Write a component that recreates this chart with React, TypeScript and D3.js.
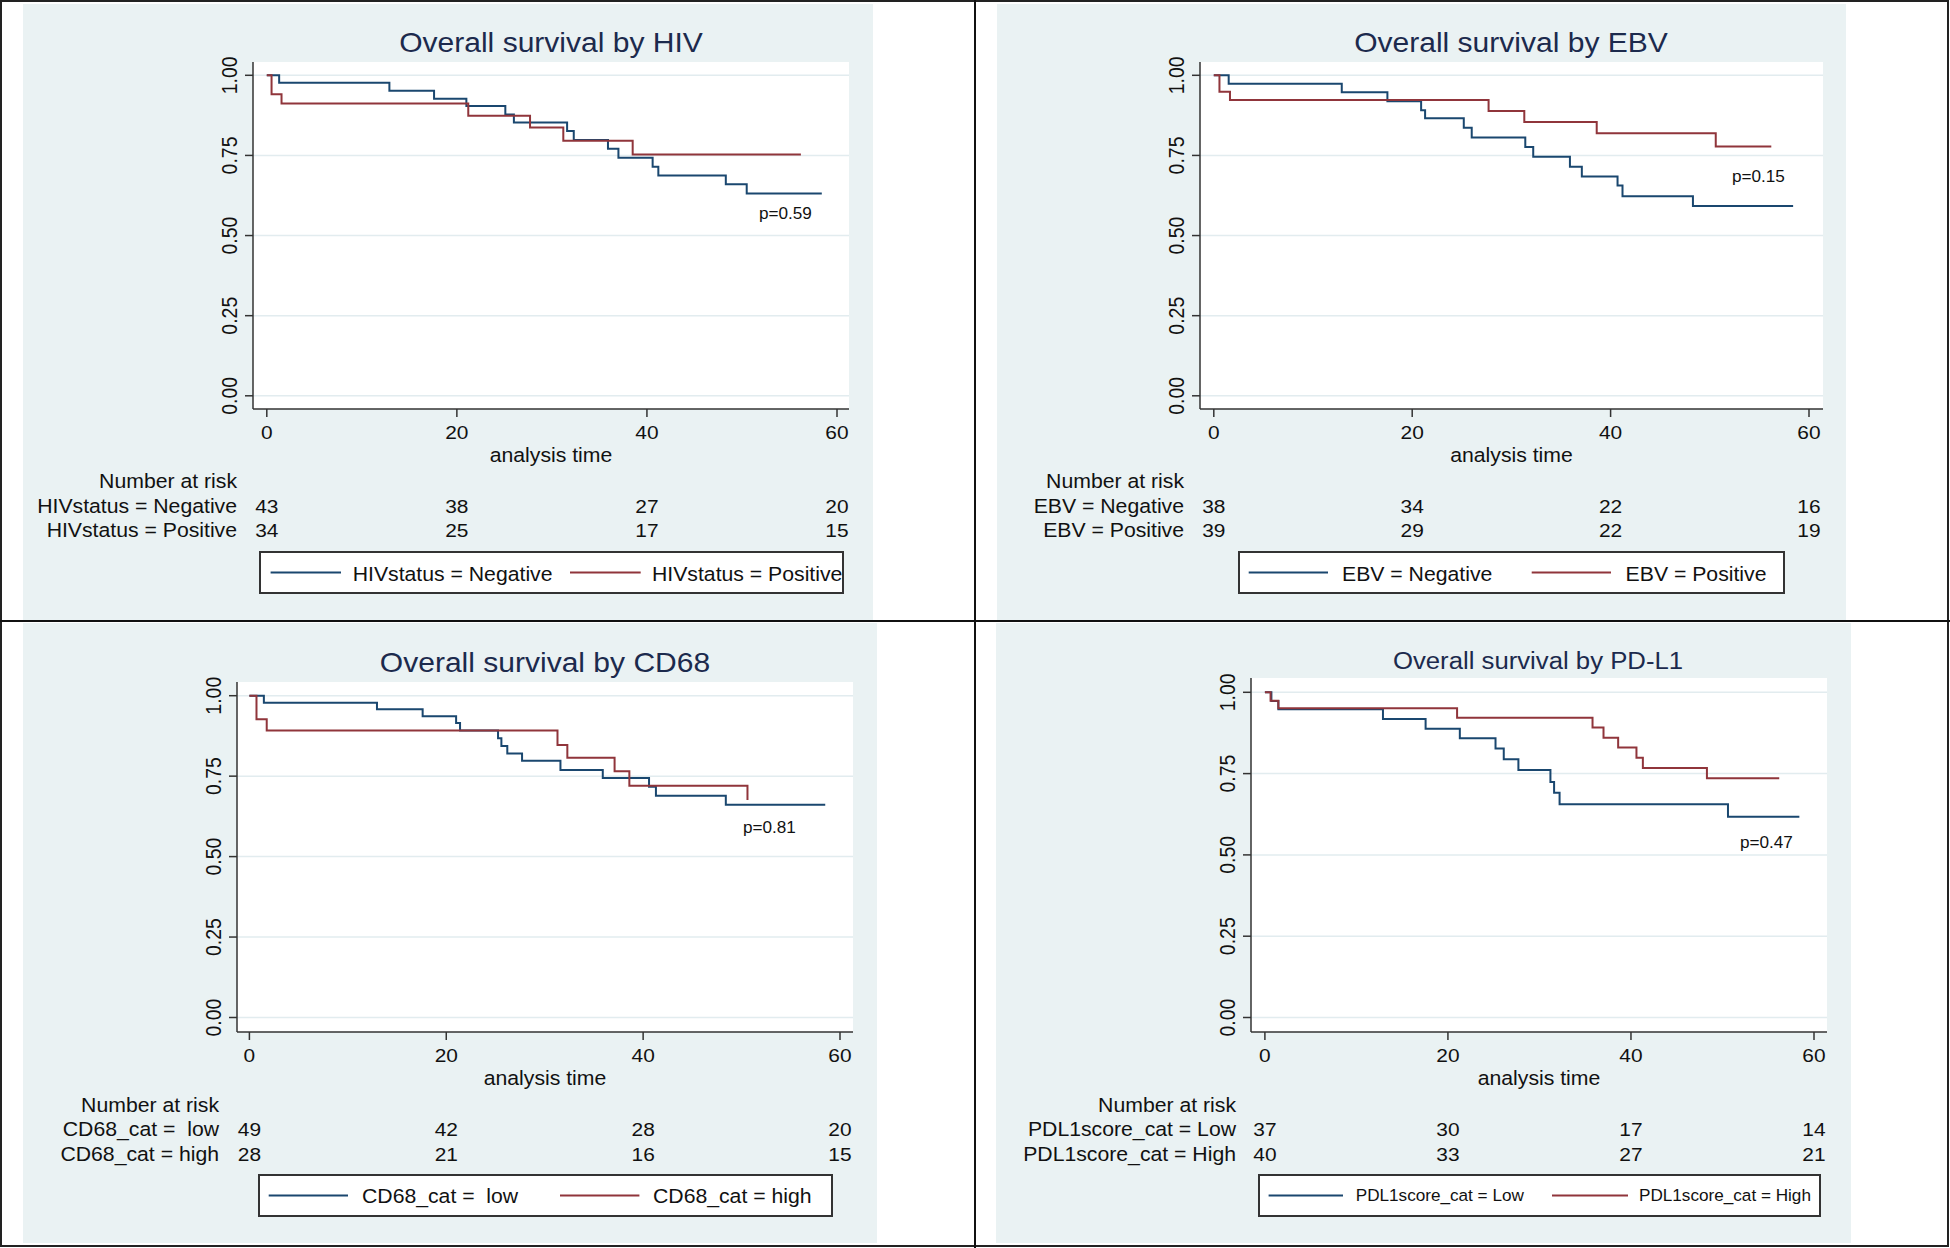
import React from "react";
import * as d3 from "d3";

const W = 1950;
const H = 1248;
const NAVY = "#1a476f";
const MAROON = "#90353b";
const BG = "#eaf2f3";
const GRID = "#e2ecef";
const SX = 1.1; // source glyphs are a bit wider than tall

const timeTicks = [0, 20, 40, 60];
const survTicks = [0, 0.25, 0.5, 0.75, 1];
const survTickLabels = ["0.00", "0.25", "0.50", "0.75", "1.00"];

// [time of step, survival after step]; last point = end of follow-up
const hivNeg = [[0, 1], [1.3, 0.977], [12.9, 0.952], [17.6, 0.927], [21.0, 0.904], [25.1, 0.878], [26.0, 0.853], [31.6, 0.826], [32.3, 0.798], [35.9, 0.771], [37.0, 0.743], [40.6, 0.715], [41.2, 0.687], [48.3, 0.66], [50.5, 0.631], [58.4, 0.631]];
const hivPos = [[0, 1], [0.5, 0.941], [1.55, 0.912], [21.2, 0.874], [27.7, 0.837], [31.2, 0.796], [38.5, 0.753], [56.2, 0.753]];
const hivRiskNeg = [43, 38, 27, 20];
const hivRiskPos = [34, 25, 17, 15];

const ebvNeg = [[0, 1], [1.5, 0.974], [12.9, 0.947], [17.5, 0.919], [20.9, 0.891], [21.3, 0.866], [25.2, 0.836], [26.0, 0.806], [31.4, 0.776], [32.2, 0.746], [35.9, 0.715], [37.1, 0.684], [40.7, 0.656], [41.2, 0.623], [48.3, 0.592], [58.4, 0.592]];
const ebvPos = [[0, 1], [0.57, 0.949], [1.63, 0.923], [27.7, 0.889], [31.3, 0.854], [38.6, 0.819], [50.6, 0.778], [56.2, 0.778]];
const ebvRiskNeg = [38, 34, 22, 16];
const ebvRiskPos = [39, 29, 22, 19];

const cdLow = [[0, 1], [1.47, 0.978], [12.96, 0.958], [17.6, 0.936], [21.0, 0.915], [21.4, 0.892], [25.26, 0.868], [25.6, 0.844], [26.2, 0.82], [27.7, 0.798], [31.6, 0.769], [35.9, 0.744], [40.6, 0.717], [41.3, 0.689], [48.4, 0.661], [58.5, 0.661]];
const cdHigh = [[0, 1], [0.72, 0.927], [1.76, 0.892], [31.3, 0.847], [32.3, 0.807], [37.1, 0.765], [38.6, 0.72], [50.6, 0.676]];
const cdRiskLow = [49, 42, 28, 20];
const cdRiskHigh = [28, 21, 16, 15];

const pdLow = [[0, 1], [0.71, 0.973], [1.47, 0.948], [12.9, 0.918], [17.56, 0.888], [21.3, 0.859], [25.2, 0.827], [26.1, 0.794], [27.7, 0.761], [31.2, 0.724], [31.6, 0.691], [32.2, 0.656], [50.6, 0.617], [58.4, 0.617]];
const pdHigh = [[0, 1], [0.62, 0.974], [1.47, 0.951], [21.0, 0.922], [35.8, 0.892], [37.0, 0.86], [38.6, 0.83], [40.6, 0.799], [41.3, 0.767], [48.3, 0.736], [56.2, 0.736]];
const pdRiskLow = [37, 30, 17, 14];
const pdRiskHigh = [40, 33, 27, 21];

const panels = [
  {
    title: "Overall survival by HIV", titleSize: 27.3, titleX: 551, titleY: 52,
    names: ["HIVstatus = Negative", "HIVstatus = Positive"],
    curves: [hivNeg, hivPos], risk: [hivRiskNeg, hivRiskPos], p: "p=0.59",
    bg: [23, 4, 873, 620], plot: [253, 62, 849, 409], xr: [266.8, 837], yr: [395.8, 75.3],
    tickY: 439, axisTitleY: 462, riskX: 237, riskY: [488, 513, 537],
    legend: [260, 552, 843, 593], leg: [270.6, 341, 352.7, 570, 640.7, 652], legY: 581, legSize: 19.3,
    pX: 759, pY: 219,
  },
  {
    title: "Overall survival by EBV", titleSize: 27.3, titleX: 1511, titleY: 52,
    names: ["EBV = Negative", "EBV = Positive"],
    curves: [ebvNeg, ebvPos], risk: [ebvRiskNeg, ebvRiskPos], p: "p=0.15",
    bg: [997, 4, 1846, 620], plot: [1200, 62, 1823, 409], xr: [1213.8, 1809], yr: [395.8, 75.3],
    tickY: 439, axisTitleY: 462, riskX: 1184, riskY: [488, 513, 537],
    legend: [1239, 552, 1784, 593], leg: [1248.7, 1328, 1342, 1531.7, 1611, 1625.6], legY: 581, legSize: 19.3,
    pX: 1732, pY: 182,
  },
  {
    title: "Overall survival by CD68", titleSize: 27.3, titleX: 545, titleY: 672,
    names: ["CD68_cat =  low", "CD68_cat = high"],
    curves: [cdLow, cdHigh], risk: [cdRiskLow, cdRiskHigh], p: "p=0.81",
    bg: [23, 623, 877, 1243], plot: [237, 682, 853, 1032], xr: [249.4, 840], yr: [1017.5, 695.7],
    tickY: 1062, axisTitleY: 1085, riskX: 219, riskY: [1112, 1136, 1161],
    legend: [259, 1175, 832, 1216], leg: [268.7, 348, 362, 560, 639.4, 653], legY: 1203, legSize: 19.3,
    pX: 743, pY: 833,
  },
  {
    title: "Overall survival by PD-L1", titleSize: 23.4, titleX: 1538, titleY: 669,
    names: ["PDL1score_cat = Low", "PDL1score_cat = High"],
    curves: [pdLow, pdHigh], risk: [pdRiskLow, pdRiskHigh], p: "p=0.47",
    bg: [996, 623, 1851, 1243], plot: [1251, 678, 1827, 1032], xr: [1264.9, 1814], yr: [1017.5, 692.3],
    tickY: 1062, axisTitleY: 1085, riskX: 1236, riskY: [1112, 1136, 1161],
    legend: [1259, 1175, 1820, 1216], leg: [1268.6, 1343, 1355.7, 1552, 1628, 1639], legY: 1201, legSize: 15.6,
    pX: 1740, pY: 848,
  },
];

function T({ x, y, size, anchor = "start", fill = "#111", children }: any) {
  return (
    <text
      transform={`translate(${x},${y}) scale(${SX},1)`}
      fontSize={size}
      textAnchor={anchor}
      fill={fill}
      style={{ whiteSpace: "pre" }}
    >
      {children}
    </text>
  );
}

function Panel({ cfg }: any) {
  const x = d3.scaleLinear().domain([0, 60]).range(cfg.xr);
  const y = d3.scaleLinear().domain([0, 1]).range(cfg.yr);
  const line = d3
    .line<number[]>()
    .x((d) => x(d[0]))
    .y((d) => y(d[1]))
    .curve(d3.curveStepAfter);
  const [pl, pt, pr, pb] = cfg.plot;
  const colors = [NAVY, MAROON];
  const [bx0, by0, bx1, by1] = cfg.bg;
  const [lx0, ly0, lx1, ly1] = cfg.legend;
  const lg = cfg.leg;
  const lineY = (ly0 + ly1) / 2;

  return (
    <g>
      <rect x={bx0} y={by0} width={bx1 - bx0} height={by1 - by0} fill={BG} />
      <rect x={pl} y={pt} width={pr - pl} height={pb - pt} fill="#fff" />
      {survTicks.map((t) => (
        <line key={t} x1={pl} x2={pr} y1={y(t)} y2={y(t)} stroke={GRID} strokeWidth={1.5} />
      ))}
      <T x={cfg.titleX} y={cfg.titleY} size={cfg.titleSize} anchor="middle" fill="#1c2a4d">
        {cfg.title}
      </T>

      {cfg.curves.map((c: number[][], i: number) => (
        <path key={i} d={line(c) || ""} fill="none" stroke={colors[i]} strokeWidth={2} />
      ))}

      {/* axes */}
      <line x1={pl} x2={pl} y1={pt} y2={pb} stroke="#333" strokeWidth={1.5} />
      <line x1={pl} x2={pr} y1={pb} y2={pb} stroke="#333" strokeWidth={1.5} />
      {survTicks.map((t, i) => (
        <g key={t}>
          <line x1={pl - 8} x2={pl} y1={y(t)} y2={y(t)} stroke="#333" strokeWidth={1.5} />
          <text
            transform={`translate(${pl - 16},${y(t)}) rotate(-90) scale(1,${SX})`}
            fontSize={19.5}
            textAnchor="middle"
            fill="#111"
          >
            {survTickLabels[i]}
          </text>
        </g>
      ))}
      {timeTicks.map((t) => (
        <g key={t}>
          <line x1={x(t)} x2={x(t)} y1={pb} y2={pb + 8} stroke="#333" strokeWidth={1.5} />
          <T x={x(t)} y={cfg.tickY} size={19} anchor="middle">{t}</T>
        </g>
      ))}
      <T x={(pl + pr) / 2} y={cfg.axisTitleY} size={19.3} anchor="middle">analysis time</T>
      <T x={cfg.pX} y={cfg.pY} size={15.6}>{cfg.p}</T>

      {/* number at risk */}
      <T x={cfg.riskX} y={cfg.riskY[0]} size={19.3} anchor="end">Number at risk</T>
      {cfg.names.map((n: string, i: number) => (
        <g key={n}>
          <T x={cfg.riskX} y={cfg.riskY[i + 1]} size={19.3} anchor="end">{n}</T>
          {cfg.risk[i].map((v: number, j: number) => (
            <T key={j} x={x(timeTicks[j])} y={cfg.riskY[i + 1]} size={19} anchor="middle">{v}</T>
          ))}
        </g>
      ))}

      {/* legend */}
      <rect x={lx0} y={ly0} width={lx1 - lx0} height={ly1 - ly0} fill="#fff" stroke="#333" strokeWidth={2} />
      <line x1={lg[0]} x2={lg[1]} y1={lineY} y2={lineY} stroke={NAVY} strokeWidth={2} />
      <T x={lg[2]} y={cfg.legY} size={cfg.legSize}>{cfg.names[0]}</T>
      <line x1={lg[3]} x2={lg[4]} y1={lineY} y2={lineY} stroke={MAROON} strokeWidth={2} />
      <T x={lg[5]} y={cfg.legY} size={cfg.legSize}>{cfg.names[1]}</T>
    </g>
  );
}

export default function App() {
  return (
    <svg
      width={W}
      height={H}
      style={{ position: "absolute", left: 0, top: 0, background: "#fff" }}
      fontFamily="'Liberation Sans', Arial, sans-serif"
    >
      {panels.map((p, i) => (
        <Panel key={i} cfg={p} />
      ))}
      <rect x={1} y={1} width={W - 3} height={H - 3} fill="none" stroke="#222" strokeWidth={2} />
      <line x1={975} x2={975} y1={0} y2={H} stroke="#111" strokeWidth={2} />
      <line x1={0} x2={W} y1={621} y2={621} stroke="#111" strokeWidth={2} />
    </svg>
  );
}
